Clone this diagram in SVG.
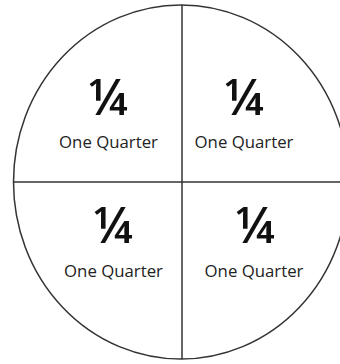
<svg xmlns="http://www.w3.org/2000/svg" width="340" height="364" viewBox="0 0 340 364">
<style>
.frac{font-family:"Open Sans","Noto Sans",sans-serif;font-size:50px;font-weight:600;fill:#111;text-anchor:middle}
.lbl{font-family:"Open Sans","Noto Sans",sans-serif;font-size:16.8px;fill:#222;text-anchor:middle}
.ln{stroke:#333;stroke-width:1.5;fill:none}
</style>
<rect width="340" height="364" fill="#fff"/>
<g id="circle"><ellipse cx="181" cy="182" rx="167.5" ry="177" class="ln"/></g>
<g id="connectors">
<line x1="182" y1="5" x2="182" y2="359" class="ln"/>
<line x1="13.5" y1="182" x2="340" y2="182" class="ln"/>
</g>
<g id="q1"><text class="frac" x="108" y="115">¼</text><text class="lbl" x="108.5" y="148">One Quarter</text></g>
<g id="q2"><text class="frac" x="244" y="115">¼</text><text class="lbl" x="244" y="148">One Quarter</text></g>
<g id="q3"><text class="frac" x="113" y="243">¼</text><text class="lbl" x="113.5" y="277">One Quarter</text></g>
<g id="q4"><text class="frac" x="255" y="243">¼</text><text class="lbl" x="254" y="277">One Quarter</text></g>
</svg>
